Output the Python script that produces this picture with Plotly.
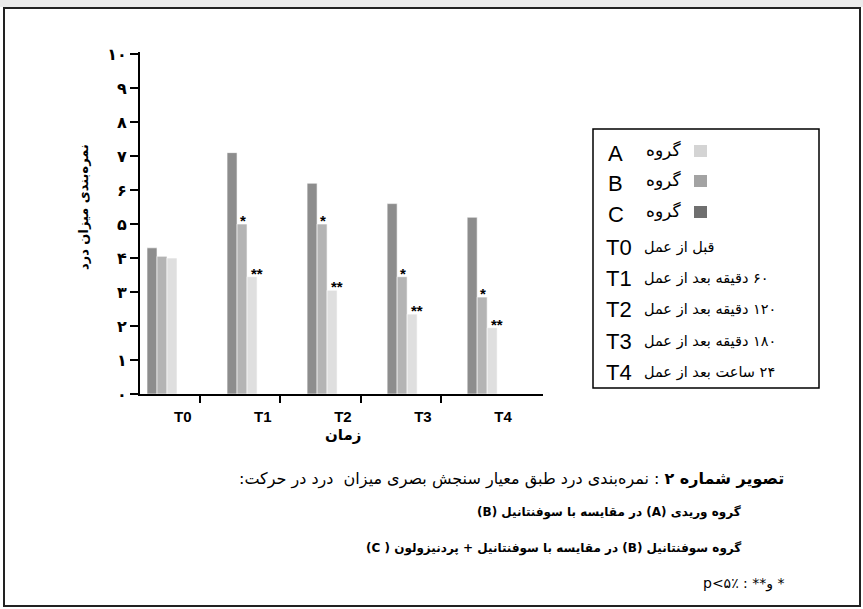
import plotly.graph_objects as go

# ---- data ----
time_points = ["T0", "T1", "T2", "T3", "T4"]
group_c = [4.3, 7.1, 6.2, 5.6, 5.2]     # گروه C (darkest)
group_b = [4.05, 5.0, 5.0, 3.45, 2.85]  # گروه B
group_a = [4.0, 3.45, 3.05, 2.35, 1.95]  # گروه A (lightest)
y_tick_values = list(range(11))
y_tick_labels = ["۰", "۱", "۲", "۳", "۴", "۵", "۶", "۷", "۸", "۹", "۱۰"]
legend_groups = ["A", "B", "C"]
legend_times = [
    ("T0", "قبل از عمل"),
    ("T1", "۶۰ دقیقه بعد از عمل"),
    ("T2", "۱۲۰ دقیقه بعد از عمل"),
    ("T3", "۱۸۰ دقیقه بعد از عمل"),
    ("T4", "۲۴ ساعت بعد از عمل"),
]
sig_b = ["", "*", "*", "*", "*"]
sig_a = ["", "**", "**", "**", "**"]

# ---- styling ----
BAR_COLORS = {"C": "#8d8d8d", "B": "#b4b4b4", "A": "#dfdfdf"}
SWATCH_COLORS = {"A": "#d4d4d4", "B": "#a3a3a3", "C": "#6f6f6f"}
FA_FONT = "DejaVu Sans"
LAT_FONT = "Liberation Sans"

W, H = 863, 609
PL, PR, PT, PB = 140, 543, 52, 394  # plot area in pixels


def px(x):
    return (x - PL) / (PR - PL)


def py(y):
    return (PB - y) / (PB - PT)


def rtl(text):
    # right-to-left embedding for Persian strings
    return "\u202b" + text + "\u202c"


x_pos = list(range(len(time_points)))

fig = go.Figure()
for name, vals in (("C", group_c), ("B", group_b), ("A", group_a)):
    fig.add_trace(go.Bar(
        x=x_pos, y=vals, name=name,
        marker=dict(color=BAR_COLORS[name], line=dict(color="white", width=0.6)),
        showlegend=False, hoverinfo="skip",
    ))

annotations = []
# significance markers above bars
for i in x_pos:
    if sig_b[i]:
        annotations.append(dict(x=i, y=group_b[i], xref="x", yref="y", text="<b>" + sig_b[i] + "</b>",
                                showarrow=False, xanchor="center", yanchor="bottom",
                                xshift=1, yshift=-7,
                                font=dict(family=LAT_FONT, size=15, color="#000000")))
    if sig_a[i]:
        annotations.append(dict(x=i, y=group_a[i], xref="x", yref="y", text="<b>" + sig_a[i] + "</b>",
                                showarrow=False, xanchor="center", yanchor="bottom",
                                xshift=15, yshift=-7,
                                font=dict(family=LAT_FONT, size=15, color="#000000")))

# axis titles
annotations.append(dict(x=px(83), y=py(207), xref="paper", yref="paper",
                        xanchor="center", yanchor="middle",
                        text="<b>" + rtl("نمره‌بندی میزان درد") + "</b>", textangle=-90, showarrow=False,
                        font=dict(family=FA_FONT, size=13, color="black")))
annotations.append(dict(x=px(343), y=py(435), xref="paper", yref="paper",
                        xanchor="center", yanchor="middle",
                        text="<b>" + rtl("زمان") + "</b>", showarrow=False,
                        font=dict(family=FA_FONT, size=15, color="black")))

# legend box contents
group_rows_y = [150, 180, 211]
for g, ry in zip(legend_groups, group_rows_y):
    annotations.append(dict(x=px(606), y=py(ry + 3), xref="paper", yref="paper", text=g,
                            showarrow=False, xanchor="left", yanchor="middle",
                            font=dict(family=LAT_FONT, size=22, color="black")))
    annotations.append(dict(x=px(683), y=py(ry), xref="paper", yref="paper", text=rtl("گروه"),
                            showarrow=False, xanchor="right", yanchor="middle",
                            font=dict(family=FA_FONT, size=17, color="black")))
time_rows_y = [247, 278, 309, 341, 372]
for (t, desc), ry in zip(legend_times, time_rows_y):
    annotations.append(dict(x=px(604), y=py(ry), xref="paper", yref="paper", text=t,
                            showarrow=False, xanchor="left", yanchor="middle",
                            font=dict(family=LAT_FONT, size=22, color="black")))
    annotations.append(dict(x=px(642), y=py(ry), xref="paper", yref="paper", text=rtl(desc),
                            showarrow=False, xanchor="left", yanchor="middle",
                            font=dict(family=FA_FONT, size=14.5, color="black")))

# caption, right aligned
caption_lines = [
    (rtl("<b>تصویر شماره ۲</b> : نمره‌بندی درد طبق معیار سنجش بصری میزان  درد در حرکت:"), 786, 479, 16),
    ("<b>" + rtl("گروه وریدی (A) در مقایسه با سوفنتانیل (B)") + "</b>", 743, 512, 12),
    ("<b>" + rtl("گروه سوفنتانیل (B) در مقایسه با سوفنتانیل + پردنیزولون ( C)") + "</b>", 743, 548, 12),
    (rtl("* و** : p<۵٪"), 786, 583, 14),
]
for txt, rx, ry, fs in caption_lines:
    annotations.append(dict(x=px(rx), y=py(ry), xref="paper", yref="paper", text=txt,
                            showarrow=False, xanchor="right", yanchor="middle",
                            font=dict(family=FA_FONT, size=fs, color="black")))

shapes = [
    # top grey band and outer frame
    dict(type="rect", xref="paper", yref="paper", x0=px(0), x1=px(W), y0=py(0), y1=py(7),
         fillcolor="#ebebeb", line=dict(width=0), layer="below"),
    dict(type="rect", xref="paper", yref="paper", x0=px(4), x1=px(860), y0=py(8), y1=py(606),
         line=dict(color="#222222", width=2), fillcolor="rgba(0,0,0,0)"),
    # legend frame
    dict(type="rect", xref="paper", yref="paper", x0=px(593), x1=px(819), y0=py(129), y1=py(388),
         line=dict(color="black", width=1.5), fillcolor="rgba(0,0,0,0)"),
]
# legend swatches
for g, ry in zip(legend_groups, group_rows_y):
    shapes.append(dict(type="rect", xref="paper", yref="paper",
                       x0=px(694), x1=px(707), y0=py(ry - 5), y1=py(ry + 7),
                       fillcolor=SWATCH_COLORS[g], line=dict(width=0)))

fig.update_layout(
    width=W, height=H,
    margin=dict(l=PL, r=W - PR, t=PT, b=H - PB, pad=0),
    paper_bgcolor="white", plot_bgcolor="white",
    barmode="group", bargap=0.625, bargroupgap=0,
    annotations=annotations, shapes=shapes,
    showlegend=False,
    xaxis=dict(
        range=[-0.275, 4.76], showgrid=False, zeroline=False,
        showline=True, linecolor="black", linewidth=2,
        tickmode="array", tickvals=[i + 0.26 for i in x_pos], ticktext=time_points,
        ticks="", ticklabelstandoff=8,
        tickfont=dict(family=LAT_FONT, size=15, color="black", weight="bold"),
        minor=dict(tickmode="array", tickvals=[i + 0.48 for i in x_pos[:-1]],
                   ticks="outside", ticklen=7, tickwidth=2, tickcolor="black"),
        fixedrange=True,
    ),
    yaxis=dict(
        range=[0, 10.06], showgrid=False, zeroline=False,
        showline=True, linecolor="black", linewidth=2,
        tickmode="array", tickvals=y_tick_values, ticktext=y_tick_labels,
        ticks="outside", ticklen=8, tickwidth=2, tickcolor="black",
        ticklabelstandoff=0,
        tickfont=dict(family=FA_FONT, size=16, color="black", weight="bold"),
        fixedrange=True,
    ),
)

fig.write_html("out.html")
